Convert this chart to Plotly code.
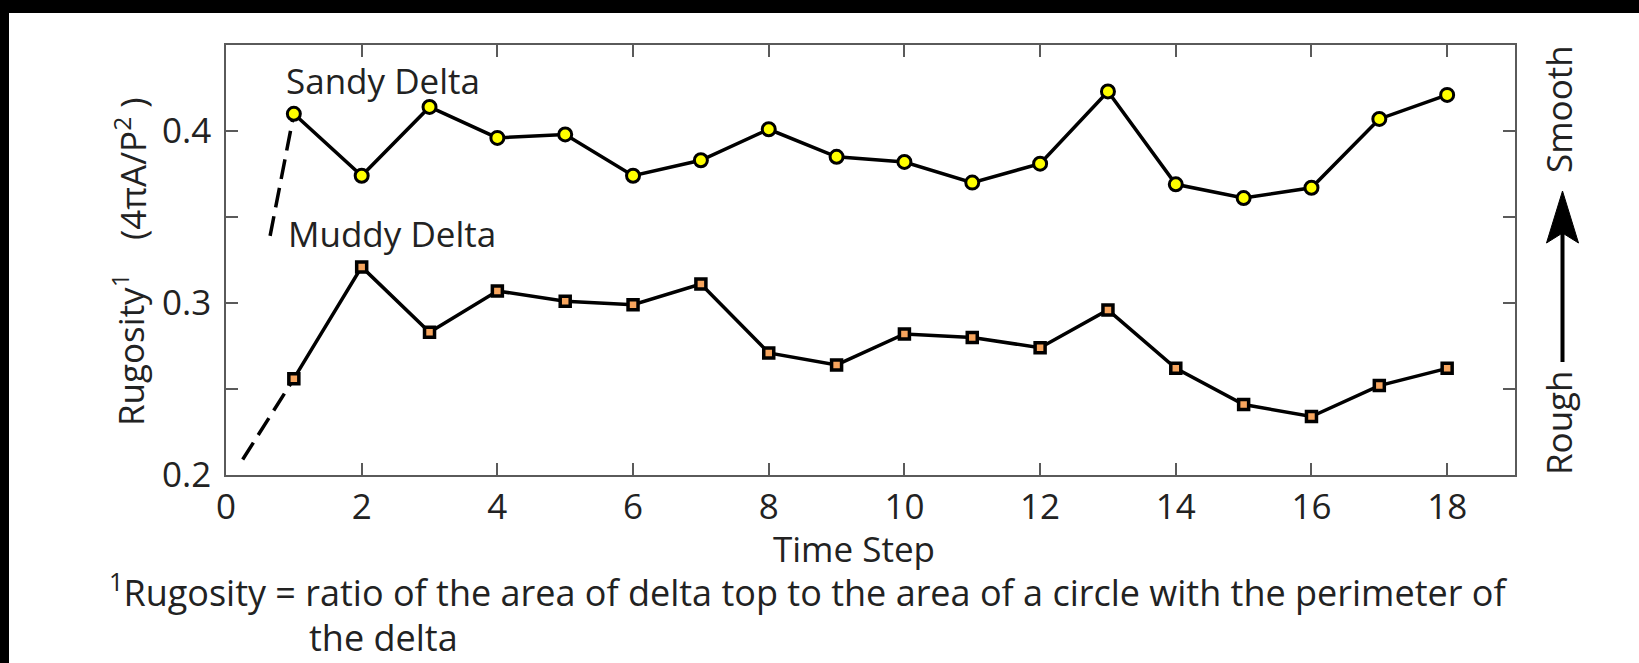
import plotly.graph_objects as go

# ---------------- data ----------------
time_step = list(range(1, 19))
sandy = [0.410, 0.374, 0.414, 0.396, 0.398, 0.374, 0.383, 0.401, 0.385,
         0.382, 0.370, 0.381, 0.423, 0.369, 0.361, 0.367, 0.407, 0.421]
muddy = [0.256, 0.321, 0.283, 0.307, 0.301, 0.299, 0.311, 0.271, 0.264,
         0.282, 0.280, 0.274, 0.296, 0.262, 0.241, 0.234, 0.252, 0.262]
# dashed extrapolation start points (toward time 0)
sandy_extrap_x = [0.65]
sandy_extrap_y = [0.339]
muddy_extrap_x = [0.246]
muddy_extrap_y = [0.209]

x_ticks = list(range(0, 19, 2))
y_ticks = [0.2, 0.3, 0.4]
y_ticktext = ["0.2", "0.3", "0.4"]
y_minor_ticks = [0.25, 0.35, 0.45]

# ---------------- layout helpers ----------------
W, H = 1639, 663
L, R, T, B = 226, 124, 45, 188
PW, PH = W - L - R, H - T - B


def px(x):
    return (x - L) / PW


def py(y):
    return (H - B - y) / PH


FONT = "Open Sans"
TXT = "#222222"
AX = "#5a5a5a"

fig = go.Figure()

fig.add_trace(go.Scatter(
    x=sandy_extrap_x + [time_step[0]], y=sandy_extrap_y + [sandy[0]],
    mode="lines", line=dict(color="black", width=3.5, dash="20px,9px"),
    showlegend=False, hoverinfo="skip"))
fig.add_trace(go.Scatter(
    x=muddy_extrap_x + [time_step[0]], y=muddy_extrap_y + [muddy[0]],
    mode="lines", line=dict(color="black", width=3.5, dash="20px,9px"),
    showlegend=False, hoverinfo="skip"))

fig.add_trace(go.Scatter(
    x=time_step, y=sandy, mode="lines+markers", name="Sandy Delta",
    line=dict(color="black", width=3.5),
    marker=dict(symbol="circle", size=13, color="#ffff00",
                line=dict(color="black", width=3)),
    showlegend=False))
fig.add_trace(go.Scatter(
    x=time_step, y=muddy, mode="lines+markers", name="Muddy Delta",
    line=dict(color="black", width=3.5),
    marker=dict(symbol="square", size=10, color="#f7a55e",
                line=dict(color="black", width=3.5)),
    showlegend=False))

axis_common = dict(
    showline=True, linecolor=AX, linewidth=1.5, mirror="ticks",
    ticks="inside", ticklen=12, tickwidth=1.5, tickcolor=AX,
    showgrid=False, zeroline=False,
    tickfont=dict(family=FONT, size=35, color=TXT),
)

fig.update_xaxes(range=[0, 19], tickvals=x_ticks, **axis_common)
fig.update_yaxes(range=[0.2, 0.45], tickvals=y_ticks, ticktext=y_ticktext,
                 ticklabelstandoff=6,
                 minor=dict(tickvals=y_minor_ticks, ticks="inside",
                            ticklen=12, tickwidth=1.5, tickcolor=AX,
                            showgrid=False),
                 **axis_common)


def ann(text, x, y, size=35, angle=0, xanchor="center", yanchor="middle"):
    return dict(text=text, x=px(x), y=py(y), xref="paper", yref="paper",
                showarrow=False, textangle=angle, xanchor=xanchor,
                yanchor=yanchor,
                font=dict(family=FONT, size=size, color=TXT))


annotations = [
    ann("Sandy Delta", 383, 80),
    ann("Muddy Delta", 392, 233),
    ann("Time Step", 854, 548),
    ann("Rugosity<sup>1</sup>", 129, 350, angle=-90),
    ann("(4πA/P<sup>2</sup> )", 130, 169, angle=-90),
    ann("Smooth", 1558, 109, angle=-90),
    ann("Rough", 1558, 423, angle=-90),
    ann("<sup>1</sup>Rugosity = ratio of the area of delta top to the area "
        "of a circle with the perimeter of", 107, 619, size=36,
        xanchor="left", yanchor="bottom"),
    ann("the delta", 307, 664, size=36, xanchor="left", yanchor="bottom"),
]

# arrow (Rough -> Smooth)
ax_x = 1562.5
shapes = [
    dict(type="line", xref="paper", yref="paper",
         x0=px(ax_x), x1=px(ax_x), y0=py(362), y1=py(232),
         line=dict(color="black", width=4)),
    dict(type="path", xref="paper", yref="paper",
         path=(f"M {px(ax_x)} {py(191)} L {px(1578.5)} {py(243)} "
               f"L {px(ax_x)} {py(233)} L {px(1546.5)} {py(243)} Z"),
         fillcolor="black", line=dict(color="black", width=1)),
    # black frame bands of the original picture
    dict(type="rect", xref="paper", yref="paper",
         x0=px(0), x1=px(W), y0=py(13), y1=py(0),
         fillcolor="black", line=dict(width=0), layer="above"),
    dict(type="rect", xref="paper", yref="paper",
         x0=px(0), x1=px(9), y0=py(H), y1=py(0),
         fillcolor="black", line=dict(width=0), layer="above"),
]

fig.update_layout(
    width=W, height=H,
    margin=dict(l=L, r=R, t=T, b=B, pad=0),
    paper_bgcolor="white", plot_bgcolor="white",
    font=dict(family=FONT, color=TXT),
    annotations=annotations, shapes=shapes,
    showlegend=False,
)

fig.write_html(
    "out.html",
    config={"displayModeBar": False},
    post_script=("document.body.style.margin='0';"
                 "document.body.style.overflow='hidden';"
                 "document.documentElement.style.overflow='hidden';"),
)
